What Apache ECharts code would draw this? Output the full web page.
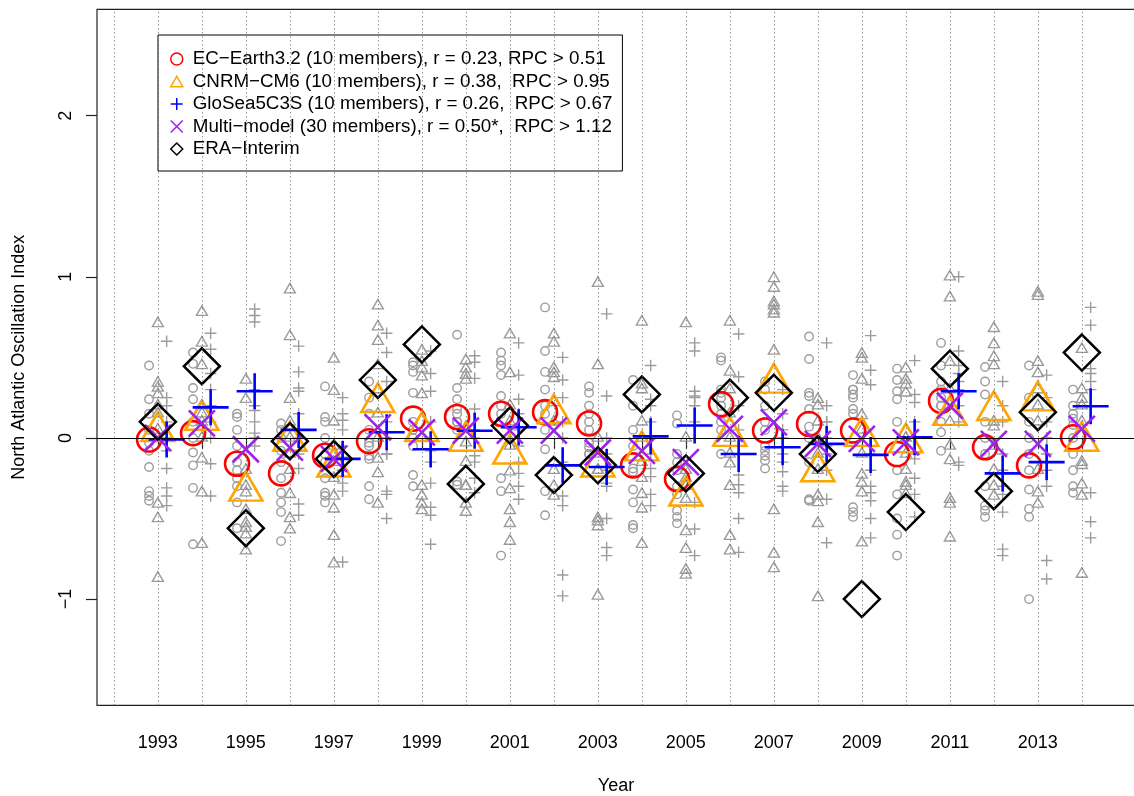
<!DOCTYPE html>
<html>
<head>
<meta charset="utf-8">
<script src="https://cdn.jsdelivr.net/npm/echarts@6/dist/echarts.min.js"></script>
<style>
  html, body { margin: 0; padding: 0; background: #ffffff; }
  #chart { width: 1134px; height: 796px; }
</style>
</head>
<body>
<div id="chart"></div>
<script>
// Winter NAO index: hindcast ensemble members, ensemble means and reanalysis, 1993-2014
const years = [1993, 1994, 1995, 1996, 1997, 1998, 1999, 2000, 2001, 2002, 2003,
               2004, 2005, 2006, 2007, 2008, 2009, 2010, 2011, 2012, 2013, 2014];

// Reference lines and axis ticks
const guideYears = [1992, 1993, 1994, 1995, 1996, 1997, 1998, 1999, 2000, 2001, 2002, 2003,
                    2004, 2005, 2006, 2007, 2008, 2009, 2010, 2011, 2012, 2013, 2014];
const xTickYears = [1993, 1994, 1995, 1996, 1997, 1998, 1999, 2000, 2001, 2002, 2003,
                    2004, 2005, 2006, 2007, 2008, 2009, 2010, 2011, 2012, 2013, 2014];
const xLabelYears = [1993, 1995, 1997, 1999, 2001, 2003, 2005, 2007, 2009, 2011, 2013];
const yTicks = [-1, 0, 1, 2];

// EC-Earth3.2 members (10 per winter)
const ecEarthMembers = [
  [0.45, 0.24, 0.15, 0.05, -0.03, -0.08, -0.18, -0.33, -0.36, -0.39],
  [0.53, 0.46, 0.31, 0.24, 0.10, 0.00, -0.09, -0.17, -0.31, -0.66],
  [0.15, 0.13, 0.05, -0.05, -0.15, -0.20, -0.25, -0.30, -0.40, -0.56],
  [0.09, 0.05, 0.00, -0.08, -0.15, -0.25, -0.34, -0.40, -0.46, -0.64],
  [0.32, 0.13, 0.10, 0.00, -0.10, -0.15, -0.25, -0.34, -0.36, -0.40],
  [0.35, 0.25, 0.15, 0.05, -0.03, -0.05, -0.11, -0.13, -0.30, -0.38],
  [0.47, 0.45, 0.41, 0.28, 0.10, 0.05, 0.00, -0.05, -0.30, -0.23],
  [0.64, 0.31, 0.24, 0.18, 0.15, 0.10, 0.10, 0.05, -0.27, -0.29],
  [0.53, 0.48, 0.45, 0.39, 0.26, 0.20, 0.15, -0.25, -0.33, -0.73],
  [0.81, 0.54, 0.41, 0.30, 0.20, 0.15, 0.05, -0.07, -0.33, -0.48],
  [0.32, 0.28, 0.20, 0.15, 0.10, 0.05, -0.03, -0.06, -0.10, -0.10],
  [0.36, 0.20, 0.05, -0.05, -0.19, -0.21, -0.32, -0.40, -0.54, -0.56],
  [0.14, 0.09, -0.10, -0.15, -0.20, -0.30, -0.35, -0.45, -0.49, -0.53],
  [0.50, 0.48, 0.30, 0.28, 0.25, 0.20, 0.15, 0.10, 0.05, -0.10],
  [0.35, 0.30, 0.20, 0.10, 0.05, -0.05, -0.08, -0.11, -0.14, -0.19],
  [0.63, 0.49, 0.28, 0.26, 0.18, 0.07, 0.00, -0.15, -0.38, -0.39],
  [0.39, 0.30, 0.30, 0.27, 0.25, 0.18, 0.15, -0.43, -0.46, -0.49],
  [0.43, 0.36, 0.29, 0.24, 0.10, -0.20, -0.35, -0.50, -0.60, -0.73],
  [0.59, 0.45, 0.35, 0.30, 0.25, 0.20, 0.20, 0.10, 0.035, -0.08],
  [0.44, 0.35, 0.27, 0.10, 0.00, -0.10, -0.30, -0.42, -0.45, -0.49],
  [0.45, 0.25, 0.10, 0.00, -0.10, -0.20, -0.32, -0.44, -0.49, -1.00],
  [0.30, 0.20, 0.15, 0.12, 0.08, 0.00, -0.10, -0.20, -0.30, -0.34]
];

// CNRM-CM6 members
const cnrmMembers = [
  [0.71, 0.34, 0.31, 0.27, 0.15, 0.05, 0.20, -0.41, -0.50, -0.87],
  [0.78, 0.59, 0.45, 0.20, 0.15, 0.10, 0.00, -0.13, -0.34, -0.66],
  [0.36, 0.24, -0.20, -0.30, -0.34, -0.45, -0.53, -0.56, -0.60, -0.70],
  [0.92, 0.63, 0.24, 0.10, 0.00, -0.10, -0.20, -0.35, -0.50, -0.57],
  [0.49, 0.29, 0.10, -0.05, -0.15, -0.25, -0.36, -0.44, -0.61, -0.78],
  [0.82, 0.69, 0.60, 0.45, 0.30, 0.15, 0.00, -0.13, -0.22, -0.41],
  [0.54, 0.47, 0.43, 0.38, 0.27, -0.30, 0.00, -0.36, -0.41, -0.45],
  [0.48, 0.43, 0.39, 0.36, -0.30, -0.30, -0.03, -0.15, -0.41, -0.46],
  [0.64, 0.40, 0.20, 0.10, -0.05, -0.21, -0.32, -0.45, -0.53, -0.64],
  [0.64, 0.59, 0.43, 0.40, 0.37, 0.22, 0.10, -0.20, -0.30, -0.36],
  [0.96, 0.45, -0.20, 0.00, -0.10, -0.20, -0.50, -0.52, -0.55, -0.98],
  [0.72, 0.33, 0.30, 0.10, 0.00, -0.15, -0.25, -0.35, -0.44, -0.66],
  [0.71, -0.25, 0.00, -0.20, -0.30, -0.38, -0.58, -0.69, -0.82, -0.85],
  [0.72, 0.41, 0.30, 0.15, 0.00, -0.10, -0.16, -0.30, -0.61, -0.70],
  [0.99, 0.93, 0.84, 0.82, 0.79, 0.77, 0.54, -0.45, -0.72, -0.81],
  [0.24, 0.20, 0.10, 0.00, -0.10, -0.20, -0.36, -0.40, -0.53, -0.99],
  [0.52, 0.49, 0.36, 0.14, 0.05, -0.10, -0.23, -0.28, -0.34, -0.65],
  [0.43, 0.36, 0.33, 0.28, -0.30, -0.20, 0.00, -0.10, -0.28, -0.35],
  [1.00, 0.87, 0.47, 0.30, 0.10, -0.05, -0.14, -0.38, -0.41, -0.62],
  [0.68, 0.58, 0.50, 0.45, 0.10, 0.07, -0.05, -0.20, -0.30, -0.36],
  [0.90, 0.88, 0.47, 0.30, 0.20, 0.10, 0.40, -0.20, -0.34, -0.41],
  [0.55, 0.24, 0.10, 0.30, 0.20, -0.15, -0.17, -0.29, -0.36, -0.845]
];

// GloSea5C3S members
const gloseaMembers = [
  [0.60, 0.25, 0.20, 0.10, 0.00, -0.08, -0.19, -0.31, -0.36, -0.42],
  [0.65, 0.55, 0.40, 0.30, 0.20, 0.10, 0.00, -0.16, 0.20, -0.36],
  [0.80, 0.76, 0.72, 0.00, 0.30, 0.20, 0.17, 0.10, 0.03, -0.05],
  [0.57, 0.41, 0.31, 0.29, 0.15, 0.00, -0.10, -0.19, -0.41, -0.48],
  [0.25, 0.15, 0.11, 0.05, -0.05, -0.12, -0.20, -0.28, -0.33, -0.77],
  [0.65, 0.53, 0.35, 0.10, 0.00, -0.10, -0.10, -0.33, -0.35, -0.50],
  [0.54, 0.40, 0.29, 0.10, -0.08, -0.15, -0.28, -0.43, -0.48, -0.66],
  [0.51, 0.47, 0.37, 0.18, 0.05, 0.00, -0.11, -0.15, -0.25, -0.34],
  [0.59, 0.39, 0.24, 0.15, 0.05, -0.05, -0.15, -0.22, -0.30, -0.38],
  [0.50, 0.36, 0.25, 0.10, 0.00, -0.15, -0.36, -0.42, -0.85, -0.98],
  [0.77, 0.26, -0.30, 0.00, -0.10, -0.20, -0.28, -0.50, -0.68, -0.73],
  [0.45, 0.24, 0.20, 0.10, 0.00, -0.10, -0.19, -0.24, -0.35, -0.42],
  [0.59, 0.54, 0.29, 0.26, 0.10, 0.20, 0.25, -0.40, -0.565, -0.73],
  [0.645, 0.38, 0.20, 0.05, -0.10, -0.23, -0.29, -0.34, -0.50, -0.71],
  [0.30, 0.15, 0.05, 0.00, -0.10, -0.15, -0.21, -0.30, -0.33, 0.00],
  [0.59, 0.20, 0.10, 0.00, -0.05, -0.10, -0.20, -0.38, 0.10, -0.65],
  [0.635, 0.42, 0.33, -0.30, -0.10, -0.20, -0.34, -0.39, -0.50, -0.62],
  [0.48, 0.27, 0.22, 0.10, 0.00, -0.10, -0.13, -0.25, -0.35, -0.49],
  [1.00, 0.54, 0.40, 0.30, 0.20, 0.10, 0.45, 0.35, -0.15, -0.17],
  [0.35, 0.20, 0.10, -0.35, -0.10, -0.20, -0.30, -0.46, -0.69, -0.73],
  [0.39, 0.25, 0.10, 0.00, -0.10, -0.20, -0.30, 0.00, -0.76, -0.875],
  [0.81, 0.70, 0.43, 0.35, 0.20, 0.40, 0.30, -0.34, -0.52, -0.62]
];

// Ensemble means and observed index
const ecEarthMean = [-0.01, 0.03, -0.16, -0.22, -0.11, -0.02, 0.12, 0.13, 0.15, 0.16, 0.09,
                     -0.17, -0.255, 0.21, 0.046, 0.087, 0.046, -0.10, 0.23, -0.058, -0.17, 0.004];
const cnrmMean = [0.04, 0.11, -0.33, -0.02, -0.18, 0.22, 0.04, -0.02, -0.10, 0.15, -0.18,
                  -0.08, -0.36, 0.01, 0.34, -0.21, 0.01, -0.03, 0.14, 0.17, 0.23, -0.02];
const gloseaMean = [-0.01, 0.19, 0.29, 0.05, -0.13, 0.035, -0.07, 0.045, 0.066, -0.17, -0.18,
                    0.01, 0.077, -0.10, -0.058, -0.037, -0.105, 0.004, 0.29, -0.22, -0.15, 0.197];
const multiModelMean = [0.00, 0.09, -0.07, -0.06, -0.13, 0.066, 0.035, 0.045, 0.045, 0.045, -0.09,
                        -0.08, -0.15, 0.056, 0.097, -0.037, -0.006, -0.027, 0.20, -0.037, -0.037, 0.056];
const eraInterim = [0.10, 0.445, -0.56, -0.02, -0.13, 0.36, 0.58, -0.285, 0.077, -0.23, -0.17,
                    0.27, -0.22, 0.25, 0.28, -0.10, -1.00, -0.46, 0.43, -0.33, 0.16, 0.53];

const seriesNames = [
  'EC\u2212Earth3.2 (10 members), r = 0.23, RPC > 0.51',
  'CNRM\u2212CM6 (10 members), r = 0.38,  RPC > 0.95',
  'GloSea5C3S (10 members), r = 0.26,  RPC > 0.67',
  'Multi\u2212model (30 members), r = 0.50*,  RPC > 1.12',
  'ERA\u2212Interim'
];

// ---- drawing ----
const FONT = "'Liberation Sans', Arial, Helvetica, sans-serif";
const DODGE = 0.2;            // horizontal shift of the EC-Earth / GloSea columns
const GREY = '#9c9c9c';
const NONE = 'rgba(0,0,0,0)';

const TRIANGLE = 'path://M5,0L10,8.66L0,8.66Z';
const PLUS = 'path://M5,0L5,10M0,5L10,5';
const CROSS = 'path://M0,0L10,10M10,0L0,10';

function memberPoints(members, shift) {
  const pts = [];
  members.forEach((vals, i) => vals.forEach(v => pts.push([years[i] + shift, v])));
  return pts;
}
function meanPoints(values, shift) {
  return values.map((v, i) => [years[i] + shift, v]);
}
function stroke(color, width) {
  return { color: NONE, borderColor: color, borderWidth: width, opacity: 1 };
}

const chart = echarts.init(document.getElementById('chart'), null, { renderer: 'canvas' });

const series = [
  {
    // dotted year guides and zero line
    type: 'scatter', data: [], silent: true, z: 1,
    markLine: {
      silent: true, animation: false, symbol: ['none', 'none'],
      label: { show: false },
      emphasis: { disabled: true },
      lineStyle: { type: [1, 3], color: '#666', width: 1 },
      data: guideYears.map(y => ({ xAxis: y })).concat([
        { yAxis: 0, lineStyle: { type: 'solid', color: '#000', width: 1.1 } }
      ])
    }
  },
  {
    name: 'ecMembers', type: 'scatter', z: 2, silent: true,
    symbol: 'circle', symbolSize: 8.5,
    itemStyle: stroke(GREY, 1.4),
    data: memberPoints(ecEarthMembers, -DODGE)
  },
  {
    name: 'cnrmMembers', type: 'scatter', z: 2, silent: true,
    symbol: TRIANGLE, symbolSize: [11, 9.5], symbolOffset: [0, -1.6],
    itemStyle: stroke(GREY, 1.4),
    data: memberPoints(cnrmMembers, 0)
  },
  {
    name: 'gloseaMembers', type: 'scatter', z: 2, silent: true,
    symbol: PLUS, symbolSize: 11.5,
    itemStyle: stroke(GREY, 1.4),
    data: memberPoints(gloseaMembers, DODGE)
  },
  {
    name: seriesNames[0], type: 'scatter', z: 3,
    symbol: 'circle', symbolSize: 24,
    itemStyle: stroke('#ff0000', 2.6),
    data: meanPoints(ecEarthMean, -DODGE)
  },
  {
    name: seriesNames[1], type: 'scatter', z: 3,
    symbol: TRIANGLE, symbolSize: [33, 28.6], symbolOffset: [0, -4.8],
    itemStyle: stroke('#ffa500', 2.6),
    data: meanPoints(cnrmMean, 0)
  },
  {
    name: seriesNames[2], type: 'scatter', z: 3,
    symbol: PLUS, symbolSize: 36,
    itemStyle: stroke('#0000ff', 2.6),
    data: meanPoints(gloseaMean, DODGE)
  },
  {
    name: seriesNames[3], type: 'scatter', z: 3,
    symbol: CROSS, symbolSize: 26,
    itemStyle: stroke('#a020f0', 2.6),
    data: meanPoints(multiModelMean, 0)
  },
  {
    name: seriesNames[4], type: 'scatter', z: 3,
    symbol: 'diamond', symbolSize: 36,
    itemStyle: stroke('#000000', 2.5),
    data: meanPoints(eraInterim, 0)
  }
];

const option = {
  animation: false,
  backgroundColor: '#ffffff',
  textStyle: { fontFamily: FONT },
  grid: {
    left: 97, top: 9.3, right: -1, bottom: 90.7,
    outerBoundsMode: 'none', containLabel: false,
    show: true, borderColor: '#222', borderWidth: 1.2, backgroundColor: NONE
  },
  legend: {
    orient: 'vertical', left: 158, top: 35,
    padding: [14, 10, 12, 12],
    borderColor: '#000', borderWidth: 1, borderRadius: 0,
    backgroundColor: '#ffffff',
    itemWidth: 12, itemHeight: 12, itemGap: 2.5,
    selectedMode: false,
    itemStyle: { borderWidth: 1.5, opacity: 1 },
    textStyle: { fontSize: 18.8, fontFamily: FONT, color: '#000', lineHeight: 20, padding: [0, 0, 0, 5] },
    data: seriesNames.map(n => ({ name: n }))
  },
  xAxis: {
    type: 'value', min: 1991.617, max: 2015.208,
    axisLine: { show: false },
    axisTick: { show: true, length: 11, lineStyle: { color: '#222', width: 1.2 }, customValues: xTickYears },
    axisLabel: {
      customValues: xLabelYears, margin: 29, fontSize: 18, color: '#000', fontFamily: FONT,
      formatter: v => String(v)
    },
    splitLine: { show: false },
    name: 'Year', nameLocation: 'middle', nameGap: 72,
    nameTextStyle: { fontSize: 18, color: '#000', fontFamily: FONT }
  },
  yAxis: {
    type: 'value', min: -1.659, max: 2.66,
    axisLine: { show: false },
    axisTick: { show: true, length: 11, lineStyle: { color: '#222', width: 1.2 }, customValues: yTicks },
    axisLabel: {
      customValues: yTicks, margin: 22, rotate: 90, fontSize: 18, color: '#000', fontFamily: FONT,
      formatter: v => (v < 0 ? '\u2212' + Math.abs(v) : String(v))
    },
    splitLine: { show: false },
    name: 'North Atlantic Oscillation Index', nameLocation: 'middle', nameGap: 69,
    nameTextStyle: { fontSize: 18, color: '#000', fontFamily: FONT }
  },
  series: series
};

chart.setOption(option);
</script>
</body>
</html>
